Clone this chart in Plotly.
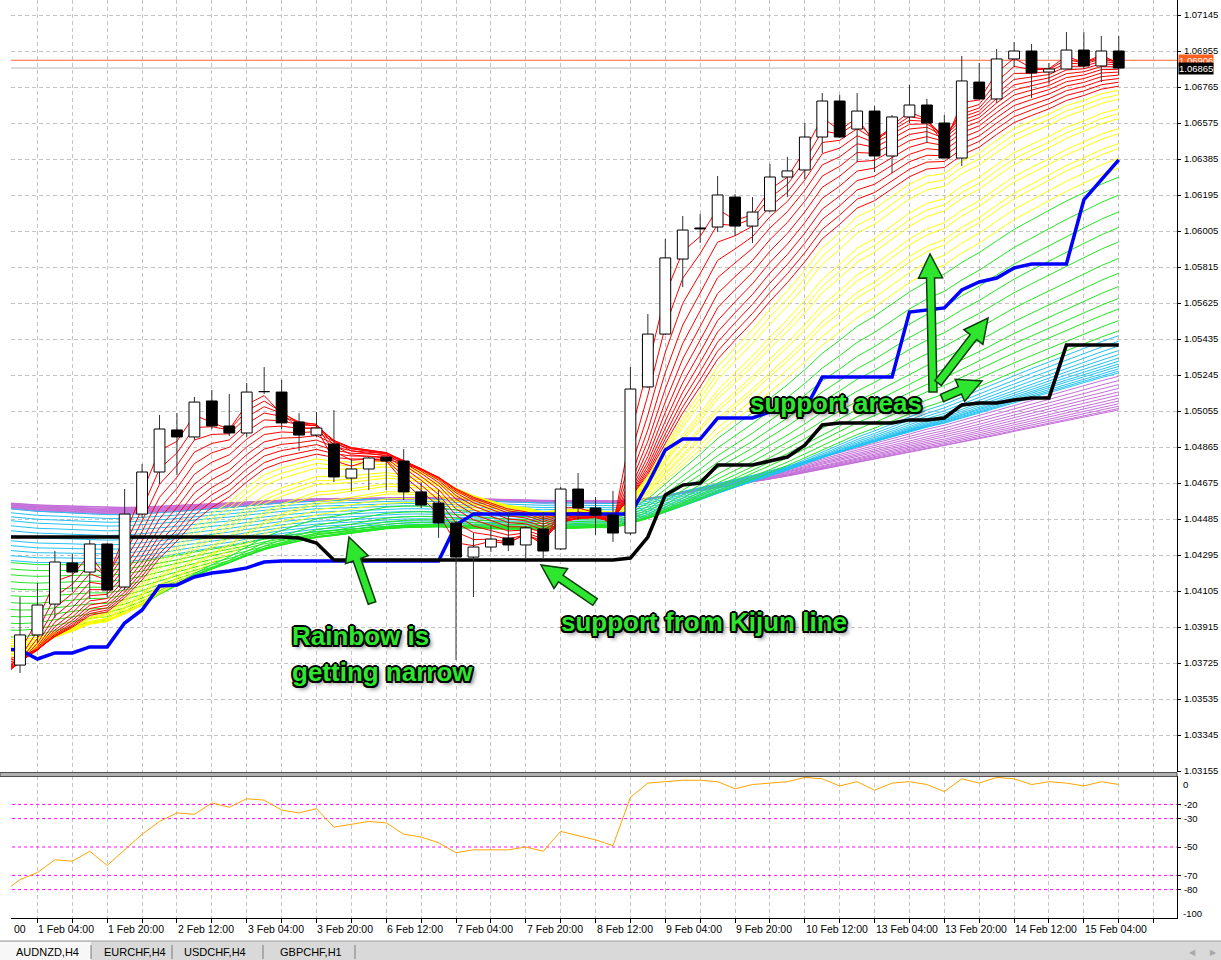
import plotly.graph_objects as go

# ---------------- data (AUDNZD, H4) ----------------
bar_index = list(range(64))
open_ = [1.03714, 1.03873, 1.04036, 1.04253, 1.04205, 1.04353, 1.04126, 1.04511, 1.04733, 1.04955,
         1.04918, 1.05108, 1.04976, 1.04939, 1.05157, 1.05155, 1.04997, 1.04928, 1.04881, 1.04701,
         1.04749, 1.04812, 1.04791, 1.04628, 1.04569, 1.04464, 1.04284, 1.04337, 1.04385, 1.04348,
         1.04432, 1.04327, 1.04643, 1.04543, 1.04506, 1.04411, 1.05182, 1.05461, 1.05857, 1.06021,
         1.06026, 1.06184, 1.06031, 1.06111, 1.06290, 1.06327, 1.06501, 1.06691, 1.06543, 1.06638,
         1.06401, 1.06607, 1.06670, 1.06575, 1.06390, 1.06791, 1.06702, 1.06913, 1.06955, 1.06844,
         1.06860, 1.06960, 1.06876, 1.06955]
high = [1.04073, 1.04147, 1.04316, 1.04300, 1.04374, 1.04358, 1.04643, 1.04775, 1.05034, 1.05044,
        1.05129, 1.05166, 1.05145, 1.05203, 1.05287, 1.05219, 1.05044, 1.05050, 1.05060, 1.04802,
        1.04812, 1.04812, 1.04854, 1.04680, 1.04638, 1.04474, 1.04411, 1.04448, 1.04522, 1.04448,
        1.04522, 1.04654, 1.04728, 1.04601, 1.04633, 1.05287, 1.05567, 1.05963, 1.06084, 1.06095,
        1.06295, 1.06200, 1.06184, 1.06359, 1.06396, 1.06575, 1.06733, 1.06723, 1.06733, 1.06665,
        1.06617, 1.06776, 1.06702, 1.06617, 1.06929, 1.06892, 1.06966, 1.07002, 1.06992, 1.06892,
        1.07055, 1.07055, 1.07034, 1.07034]
low = [1.03672, 1.03831, 1.03962, 1.04100, 1.04063, 1.04073, 1.04110, 1.04490, 1.04670, 1.04717,
       1.04902, 1.04960, 1.04923, 1.04918, 1.05145, 1.04960, 1.04844, 1.04918, 1.04680, 1.04633,
       1.04638, 1.04638, 1.04585, 1.04543, 1.04385, 1.03741, 1.04073, 1.04311, 1.04316, 1.04279,
       1.04279, 1.04321, 1.04480, 1.04401, 1.04364, 1.04401, 1.05176, 1.05456, 1.05709, 1.05942,
       1.06000, 1.05979, 1.05942, 1.06105, 1.06184, 1.06279, 1.06417, 1.06496, 1.06369, 1.06316,
       1.06311, 1.06575, 1.06469, 1.06390, 1.06348, 1.06702, 1.06681, 1.06871, 1.06707, 1.06781,
       1.06860, 1.06860, 1.06791, 1.06828]
close = [1.03873, 1.04031, 1.04258, 1.04205, 1.04353, 1.04110, 1.04511, 1.04733, 1.04960, 1.04918,
         1.05102, 1.04976, 1.04939, 1.05155, 1.05160, 1.04992, 1.04928, 1.04965, 1.04707, 1.04749,
         1.04807, 1.04791, 1.04628, 1.04559, 1.04464, 1.04284, 1.04337, 1.04379, 1.04348, 1.04438,
         1.04316, 1.04643, 1.04543, 1.04506, 1.04411, 1.05171, 1.05461, 1.05863, 1.06010, 1.06016,
         1.06195, 1.06031, 1.06105, 1.06290, 1.06322, 1.06501, 1.06691, 1.06501, 1.06638, 1.06401,
         1.06607, 1.06670, 1.06575, 1.06390, 1.06797, 1.06702, 1.06913, 1.06955, 1.06839, 1.06860,
         1.06960, 1.06876, 1.06955, 1.06865]

# indicator lines, bar -1 .. 63
line_bars = list(range(-1, 64))
tenkan = [1.03799, 1.03794, 1.03746, 1.03778, 1.03778, 1.03810, 1.03810, 1.03936, 1.04005, 1.04132,
          1.04137, 1.04179, 1.04200, 1.04211, 1.04227, 1.04258, 1.04263, 1.04263, 1.04263, 1.04263,
          1.04263, 1.04263, 1.04263, 1.04263, 1.04263, 1.04263, 1.04454, 1.04511, 1.04511, 1.04511,
          1.04511, 1.04511, 1.04511, 1.04511, 1.04511, 1.04511, 1.04511, 1.04670, 1.04849, 1.04907,
          1.04907, 1.05018, 1.05018, 1.05018, 1.05050, 1.05055, 1.05061, 1.05234, 1.05234, 1.05234,
          1.05234, 1.05234, 1.05577, 1.05588, 1.05599, 1.05694, 1.05736, 1.05757, 1.05810, 1.05831,
          1.05831, 1.05831, 1.06169, 1.06274, 1.06380]
kijun = [1.04390, 1.04390, 1.04390, 1.04390, 1.04390, 1.04390, 1.04390, 1.04390, 1.04390, 1.04390,
         1.04390, 1.04390, 1.04390, 1.04390, 1.04390, 1.04390, 1.04390, 1.04385, 1.04358, 1.04269,
         1.04269, 1.04269, 1.04269, 1.04269, 1.04269, 1.04269, 1.04269, 1.04269, 1.04269, 1.04269,
         1.04269, 1.04269, 1.04269, 1.04269, 1.04269, 1.04269, 1.04279, 1.04390, 1.04612, 1.04664,
         1.04675, 1.04770, 1.04770, 1.04770, 1.04791, 1.04812, 1.04875, 1.04981, 1.04992, 1.04992,
         1.04992, 1.04992, 1.05008, 1.05008, 1.05018, 1.05087, 1.05097, 1.05097, 1.05113, 1.05124,
         1.05124, 1.05403, 1.05403, 1.05403, 1.05403]
oscillator = [-82, -73, -68, -59, -60, -53, -63, -52, -41, -32,
              -26, -27, -19, -22, -16, -17, -24, -26, -23, -36,
              -34, -32, -33, -41, -43, -47, -54, -52, -52, -52,
              -50, -53, -39, -42, -45, -49, -15, -5, -4, -3,
              -3, -4, -9, -6, -5, -4, -1, -2, -7, -4,
              -10, -5, -4, -6, -11, -2, -5, -1, -2, -6,
              -4, -5, -7, -4, -6]

# rainbow moving-average bands: periods and values at the left edge
red_periods = [2, 3, 4, 5, 6, 7, 8, 9, 10, 11, 12, 13]
red_start = [1.03625, 1.03636, 1.03646, 1.03657, 1.03667, 1.03678, 1.03688, 1.03699, 1.03709, 1.03720, 1.03731, 1.03741]
yellow_periods = [14, 15, 16, 18, 19, 20, 22, 23, 25, 26, 28, 30]
yellow_start = [1.03751, 1.03762, 1.03767, 1.03778, 1.03783, 1.03794, 1.03799, 1.03810, 1.03815, 1.03826, 1.03836, 1.03847]
green_periods = [32, 36, 40, 44, 48, 53, 58, 63, 68, 73, 79, 85]
green_start = [1.03862, 1.03899, 1.03936, 1.03973, 1.04010, 1.04047, 1.04084, 1.04121, 1.04158, 1.04195, 1.04226, 1.04258]
blue_periods = [88, 92, 96, 100, 104, 108, 112, 116, 120, 124, 128, 132]
blue_start = [1.04269, 1.04295, 1.04322, 1.04348, 1.04374, 1.04401, 1.04427, 1.04453, 1.04480, 1.04501, 1.04522, 1.04543]
violet_periods = [136, 142, 148, 154, 160, 166, 172, 178, 184, 190, 196, 200]
violet_start = [1.04543, 1.04546, 1.04549, 1.04551, 1.04554, 1.04557, 1.04559, 1.04562, 1.04564, 1.04567, 1.04570, 1.04572]

price_ticks = [1.03155, 1.03345, 1.03535, 1.03725, 1.03915, 1.04105, 1.04295, 1.04485, 1.04675, 1.04865,
               1.05055, 1.05245, 1.05435, 1.05625, 1.05815, 1.06005, 1.06195, 1.06385, 1.06575, 1.06765,
               1.06955, 1.07145]
level_values = [-20, -30, -50, -70, -80]
date_label_bars = [1, 5, 9, 13, 17, 21, 25, 29, 33, 37, 41, 45, 49, 53, 57, 61]
date_labels = ["1 Feb 04:00", "1 Feb 20:00", "2 Feb 12:00", "3 Feb 04:00", "3 Feb 20:00", "6 Feb 12:00",
               "7 Feb 04:00", "7 Feb 20:00", "8 Feb 12:00", "9 Feb 04:00", "9 Feb 20:00", "10 Feb 12:00",
               "13 Feb 04:00", "13 Feb 20:00", "14 Feb 12:00", "15 Feb 04:00"]
ask_price = 1.06906
bid_price = 1.06865
tabs = ["AUDNZD,H4", "EURCHF,H4", "USDCHF,H4", "GBPCHF,H1"]

# ---------------- layout geometry ----------------
OFF = 0  # page body margin is removed by the post script below
W, H = 1221 - OFF, 960 - OFF
ML, MR, MT, MB = 11 - OFF, 44, 0, 42
PW, PH = W - ML - MR, H - MT - MB
X_RANGE = [-0.516, 66.34]
Y_RANGE = [1.031497, 1.07145 + (15 - OFF) * 0.0019 / 36]
MAIN_DOM = [146 / PH, 1.0]
SUB_DOM = [0.0, 142 / PH]
FONT = "Liberation Sans"


def pxx(rx):
    """reference-image x pixel -> paper x"""
    return (rx - OFF - ML) / PW


def pxy(ry):
    """reference-image y pixel -> paper y"""
    return (H - MB - (ry - OFF)) / PH


fig = go.Figure()


def ema(start, period):
    a = 2.0 / (period + 1)
    e = start
    out = [e]
    for c in close:
        e = e + a * (c - e)
        out.append(e)
    return out


bands = [("#c46ed8", violet_periods, violet_start),
         ("#22c2f2", blue_periods, blue_start),
         ("#22e622", green_periods, green_start),
         ("#ffff00", yellow_periods, yellow_start),
         ("#ff0000", red_periods, red_start)]
for color, periods, starts in bands:
    xs, ys = [], []
    for p, s in zip(periods, starts):
        xs += line_bars + [None]
        ys += ema(s, p) + [None]
    fig.add_trace(go.Scatter(x=xs, y=ys, mode="lines", line=dict(color=color, width=1),
                             hoverinfo="skip", xaxis="x", yaxis="y"))

fig.add_trace(go.Scatter(x=line_bars, y=tenkan, mode="lines", line=dict(color="#0000ff", width=3.5),
                         hoverinfo="skip", xaxis="x", yaxis="y"))
fig.add_trace(go.Scatter(x=line_bars, y=kijun, mode="lines", line=dict(color="#000000", width=3.5),
                         hoverinfo="skip", xaxis="x", yaxis="y"))

# candles: wicks then bodies
wx, wy = [], []
for i, h, l in zip(bar_index, high, low):
    wx += [i, i, None]
    wy += [l, h, None]
fig.add_trace(go.Scatter(x=wx, y=wy, mode="lines", line=dict(color="#303030", width=1),
                         hoverinfo="skip", xaxis="x", yaxis="y"))
HW = 0.31
for bull, fillc in ((True, "#ffffff"), (False, "#000000")):
    bx, by = [], []
    for i, o, c in zip(bar_index, open_, close):
        if (c >= o) != bull:
            continue
        lo, hi = min(o, c), max(o, c)
        bx += [i - HW, i + HW, i + HW, i - HW, i - HW, None]
        by += [lo, lo, hi, hi, lo, None]
    fig.add_trace(go.Scatter(x=bx, y=by, mode="lines", fill="toself", fillcolor=fillc,
                             line=dict(color="#000000", width=1), hoverinfo="skip",
                             xaxis="x", yaxis="y"))

# lower panel: level lines then oscillator
lx, ly = [], []
for lv in level_values:
    lx += [X_RANGE[0] - 2, X_RANGE[1] + 2, None]
    ly += [lv, lv, None]
fig.add_trace(go.Scatter(x=lx, y=ly, mode="lines", line=dict(color="#ff00ff", width=1, dash="3px,3px"),
                         hoverinfo="skip", xaxis="x2", yaxis="y2"))
fig.add_trace(go.Scatter(x=line_bars, y=oscillator, mode="lines", line=dict(color="#ffa500", width=1),
                         hoverinfo="skip", xaxis="x2", yaxis="y2"))

shapes = []
shapes.append(dict(type="line", xref="paper", yref="y", x0=0, x1=1, y0=ask_price, y1=ask_price,
                   line=dict(color="#ff6633", width=1), layer="below"))
shapes.append(dict(type="line", xref="paper", yref="y", x0=0, x1=1, y0=bid_price, y1=bid_price,
                   line=dict(color="#b8b8b8", width=1), layer="below"))
# panel separator
shapes.append(dict(type="rect", xref="paper", yref="paper", x0=pxx(0), x1=pxx(1177),
                   y0=pxy(776.5), y1=pxy(772.5), fillcolor="#b0b0b0",
                   line=dict(color="#505050", width=1)))


def arrow_path(tail, tip, shaft=8, head_w=24, head_l=24):
    tx, ty = tail
    hx, hy = tip
    dx, dy = hx - tx, hy - ty
    ln = (dx * dx + dy * dy) ** 0.5
    ux, uy = dx / ln, dy / ln
    nx, ny = -uy, ux
    bx, by = hx - ux * head_l, hy - uy * head_l
    pts = [(tx + nx * shaft / 2, ty + ny * shaft / 2),
           (bx + nx * shaft / 2, by + ny * shaft / 2),
           (bx + nx * head_w / 2, by + ny * head_w / 2),
           (hx, hy),
           (bx - nx * head_w / 2, by - ny * head_w / 2),
           (bx - nx * shaft / 2, by - ny * shaft / 2),
           (tx - nx * shaft / 2, ty - ny * shaft / 2)]
    return "M " + " L ".join(f"{pxx(x):.5f},{pxy(y):.5f}" for x, y in pts) + " Z"


arrows = [((372, 603), (349, 537)),
          ((595, 602), (541, 565)),
          ((933, 392), (930, 254)),
          ((938, 383), (988, 318)),
          ((942, 398), (982, 381))]
for tail, tip in arrows:
    shapes.append(dict(type="path", xref="paper", yref="paper", path=arrow_path(tail, tip),
                       fillcolor="#2ee62e", line=dict(color="#0b3b0b", width=1.5)))

# bottom tab bar
shapes.append(dict(type="rect", xref="paper", yref="paper", x0=pxx(0), x1=pxx(1221), y0=pxy(960),
                   y1=pxy(941), fillcolor="#d9d9d9", line=dict(width=0)))
shapes.append(dict(type="rect", xref="paper", yref="paper", x0=pxx(0), x1=pxx(91), y0=pxy(960),
                   y1=pxy(942), fillcolor="#f7f7f7", line=dict(width=0)))
shapes.append(dict(type="line", xref="paper", yref="paper", x0=pxx(0), x1=pxx(1221), y0=pxy(941),
                   y1=pxy(941), line=dict(color="#a0a0a0", width=1)))
for sx in (91, 172, 263, 355):
    shapes.append(dict(type="line", xref="paper", yref="paper", x0=pxx(sx), x1=pxx(sx), y0=pxy(945),
                       y1=pxy(959), line=dict(color="#7a7a7a", width=1)))

ann = []
for b, t in zip(date_label_bars, date_labels):
    ann.append(dict(x=b, xref="x2", y=pxy(929), yref="paper", text=t, showarrow=False,
                    xanchor="left", yanchor="middle", xshift=-1,
                    font=dict(family=FONT, size=10.5, color="#000000")))
ann.append(dict(x=pxx(12), xref="paper", y=pxy(929), yref="paper", text="00", showarrow=False,
                xanchor="left", yanchor="middle", font=dict(family=FONT, size=10.5, color="#000000")))
for t, py in (("0", 784), ("-100", 913)):
    ann.append(dict(x=1, xref="paper", y=pxy(py), yref="paper", text=t, showarrow=False,
                    xanchor="left", yanchor="middle", xshift=4, font=dict(family=FONT, size=9.5, color="#000000")))
ann.append(dict(x=1, xref="paper", y=ask_price, yref="y", text=f"{ask_price:.5f}", showarrow=False,
                xanchor="left", yanchor="middle", xshift=1, bgcolor="#ff6020", borderpad=0,
                font=dict(family=FONT, size=9.5, color="#ffffff")))
ann.append(dict(x=1, xref="paper", y=bid_price, yref="y", text=f"{bid_price:.5f}", showarrow=False,
                xanchor="left", yanchor="middle", xshift=1, bgcolor="#000000", borderpad=0,
                font=dict(family=FONT, size=9.5, color="#ffffff")))
for t, px in zip(tabs, (14, 102, 182, 278)):
    ann.append(dict(x=pxx(px), xref="paper", y=pxy(952), yref="paper", text=t, showarrow=False,
                    xanchor="left", yanchor="middle", font=dict(family=FONT, size=11, color="#000000")))
for t, px in (("\u25c0", 1192), ("\u25b6", 1213)):
    ann.append(dict(x=pxx(px), xref="paper", y=pxy(952), yref="paper", text=t, showarrow=False,
                    xanchor="center", yanchor="middle", font=dict(family=FONT, size=8, color="#a8a8a8")))

outline = ("-1.5px -1.5px 0 #000, 1.5px -1.5px 0 #000, -1.5px 1.5px 0 #000, 1.5px 1.5px 0 #000, "
           "0 2px 0 #000, 0 -2px 0 #000, 2px 0 0 #000, -2px 0 0 #000, 3px 3px 4px rgba(0,0,0,0.6)")
gfont = dict(family=FONT, size=26, color="#2ee62e", weight="bold", shadow=outline)
for t, px, py in (("Rainbow is", 290, 636),
                  ("getting narrow", 290, 672),
                  ("support from Kijun line", 559, 622),
                  ("support areas", 748, 403)):
    ann.append(dict(x=pxx(px), xref="paper", y=pxy(py), yref="paper", text=t, showarrow=False,
                    xanchor="left", yanchor="middle", font=gfont))

grid = dict(showgrid=True, gridcolor="#c4c4c4", gridwidth=1, griddash="4px,3px")
odd_ticks = list(range(-1, 67, 2))
tick_font = dict(family=FONT, size=9.5, color="#000000")

fig.update_layout(
    width=W, height=H, margin=dict(l=ML, r=MR, t=MT, b=MB, pad=0),
    paper_bgcolor="#ffffff", plot_bgcolor="#ffffff", showlegend=False,
    font=dict(family=FONT, size=10, color="#000000"),
    xaxis=dict(domain=[0, 1], anchor="y", range=X_RANGE, tickvals=odd_ticks, showticklabels=False,
               ticks="", zeroline=False, showline=False, fixedrange=True, **grid),
    yaxis=dict(domain=MAIN_DOM, anchor="x", side="right", range=Y_RANGE, tickvals=price_ticks,
               ticktext=[f"{v:.5f}" for v in price_ticks], ticks="outside", ticklen=3, tickcolor="#000000",
               ticklabelstandoff=1,
               showline=True, linecolor="#000000", linewidth=1, zeroline=False, fixedrange=True,
               tickfont=tick_font, **grid),
    xaxis2=dict(domain=[0, 1], anchor="y2", matches="x", range=X_RANGE, tickvals=odd_ticks,
                showticklabels=False, ticks="outside", ticklen=4, tickcolor="#000000",
                showline=True, linecolor="#000000", linewidth=1, zeroline=False, fixedrange=True, **grid),
    yaxis2=dict(domain=SUB_DOM, anchor="x2", side="right", range=[-100, 0], tickvals=level_values,
                ticktext=[str(v) for v in level_values], ticks="outside", ticklen=3, tickcolor="#000000",
                ticklabelstandoff=1,
                showline=True, linecolor="#000000", linewidth=1, showgrid=False, zeroline=False,
                fixedrange=True, tickfont=tick_font),
    shapes=shapes, annotations=ann,
)

fig.write_html("out.html", config={"displayModeBar": False},
               post_script="document.body.style.margin='0';document.body.style.overflow='hidden';")
